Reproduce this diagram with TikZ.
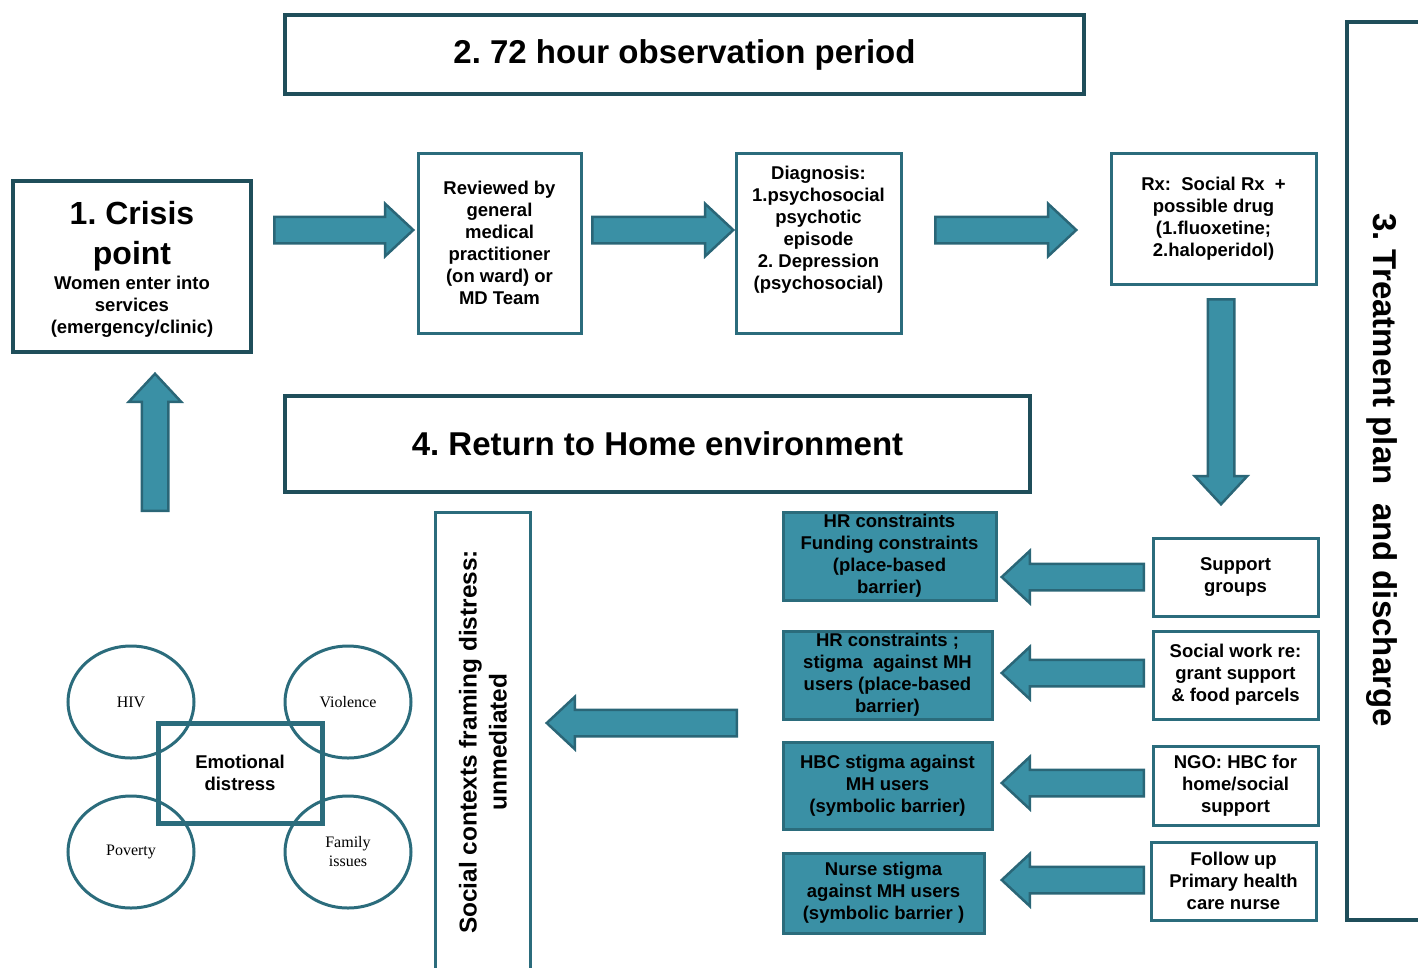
\documentclass[tikz,border=0pt]{standalone}
\usepackage{fontspec}
\setmainfont{Liberation Sans}
\newfontfamily\circfont{Liberation Serif}
\usetikzlibrary{shapes.arrows,shapes.geometric,positioning}
\definecolor{tdark}{HTML}{1F4E5A}
\definecolor{tline}{HTML}{2B6C7C}
\definecolor{tfill}{HTML}{3A90A5}
\definecolor{tedge}{HTML}{2A6677}
\frenchspacing

\tikzset{
  bigbox/.style={draw=tdark,line width=4.5pt,fill=white,align=center,inner sep=0pt,
    font=\fontsize{33}{40}\selectfont\bfseries},
  smallbox/.style={draw=tline,line width=3pt,align=center,inner sep=0pt,
    font=\fontsize{18.5}{22}\selectfont\bfseries},
  barbox/.style={smallbox,fill=tfill},
  blockarrow/.style={single arrow,draw=tedge,fill=tfill,line width=2.5pt,inner sep=12pt,
    single arrow head extend=13pt,single arrow tip angle=86,minimum height=#1,anchor=tail},
  circ/.style={ellipse,draw=tline,line width=3pt,minimum width=126pt,minimum height=112pt,
    inner sep=0pt,align=center,font=\fontsize{16}{19}\selectfont\circfont}
}

\begin{document}
\begin{tikzpicture}[x=1pt,y=-1pt]
  \useasboundingbox (0,0) rectangle (1418,967);

  % stages
  \node[bigbox,minimum width=799pt,minimum height=79pt] (observe) at (684.5,54.5) {2. 72 hour observation period};
  \node[bigbox,minimum width=745pt,minimum height=96pt] (home) at (657.5,444) {4. Return to Home environment};
  \node[bigbox,minimum width=100pt,minimum height=898pt] (treat) at (1397,471) {};
  \node[rotate=-90,font=\fontsize{33}{40}\selectfont\bfseries] (treattxt) at (1382,470) {3. Treatment plan\ \ and discharge};
  \node[bigbox,minimum width=238pt,minimum height=171pt,font=\fontsize{18.5}{22}\selectfont\bfseries] (crisis) at (132,266.5)
    {{\fontsize{32}{38}\selectfont\rule{0pt}{29pt}1. Crisis}\\[16pt]{\fontsize{32}{38}\selectfont point}\\[3pt]Women enter into\\services\\(emergency/clinic)};

  % pathway boxes
  \node[smallbox,minimum width=163pt,minimum height=180pt] (review) at (499.5,243)
    {Reviewed by\\general\\medical\\practitioner\\(on ward) or\\MD Team};
  \node[smallbox,minimum width=165pt,minimum height=180pt] (diag) at (818.5,243)
    {Diagnosis:\\1.psychosocial\\psychotic\\episode\\2. Depression\\(psychosocial)\\[8pt]};
  \node[smallbox,minimum width=205pt,minimum height=131pt] (rx) at (1213.5,218.5)
    {Rx:\ \ Social Rx\ \ +\\possible drug\\(1.fluoxetine;\\2.haloperidol)};

  % discharge supports
  \node[smallbox,minimum width=165pt,minimum height=78pt] (supp) at (1235.5,577) {Support\\groups};
  \node[smallbox,minimum width=165pt,minimum height=88pt] (swork) at (1235.5,675) {Social work re:\\grant support\\\& food parcels};
  \node[smallbox,minimum width=165pt,minimum height=79pt] (ngo) at (1235.5,785.5) {NGO: HBC for\\home/social\\support};
  \node[smallbox,minimum width=165pt,minimum height=78pt] (nurse) at (1233.5,881) {Follow up\\Primary health\\care nurse};

  % barriers
  \node[barbox,minimum width=213pt,minimum height=88pt] (bar1) at (889.5,556) {HR constraints\\Funding constraints\\(place-based\\barrier)};
  \node[barbox,minimum width=209pt,minimum height=88pt] (bar2) at (887.5,675) {HR constraints ;\\stigma\ \ against MH\\users (place-based\\barrier)};
  \node[barbox,minimum width=209pt,minimum height=87pt] (bar3) at (887.5,785.5) {HBC stigma against\\MH users\\(symbolic barrier)};
  \node[barbox,minimum width=201pt,minimum height=80pt] (bar4) at (883.5,893) {Nurse stigma\\against MH users\\(symbolic barrier )};

  % social context
  \node[smallbox,minimum width=95pt,minimum height=496pt] (social) at (482.5,760) {};
  \node[rotate=90,align=center,font=\fontsize{24.4}{30}\selectfont\bfseries] (socialtxt) at (483,742)
    {Social contexts framing distress:\\unmediated};

  \node[circ] (hiv) at (131,702) {HIV};
  \node[circ] (viol) at (348,702) {Violence};
  \node[circ] (pov) at (131,852) {Poverty};
  \node[circ] (fam) at (348,852) {Family\\issues};
  \node[draw=tline,line width=5pt,minimum width=164pt,minimum height=100pt,align=center,
    font=\fontsize{18.5}{22}\selectfont\bfseries] (emo) at (240,773) {Emotional\\distress};

  % arrows
  \node[blockarrow=139pt] (go1) at (273,230) {};
  \node[blockarrow=141pt] (go2) at (591,230) {};
  \node[blockarrow=141pt] (go3) at (934,230) {};
  \node[blockarrow=205pt,rotate=270] (godown) at (1221,298) {};
  \node[blockarrow=137pt,rotate=90] (goup) at (155,512) {};
  \node[blockarrow=190pt,rotate=180] (goback) at (738,723) {};
  \foreach \y [count=\i] in {577,673,783,880}
    \node[blockarrow=142pt,rotate=180] (bar\i back) at (1145,\y) {};
\end{tikzpicture}
\end{document}
